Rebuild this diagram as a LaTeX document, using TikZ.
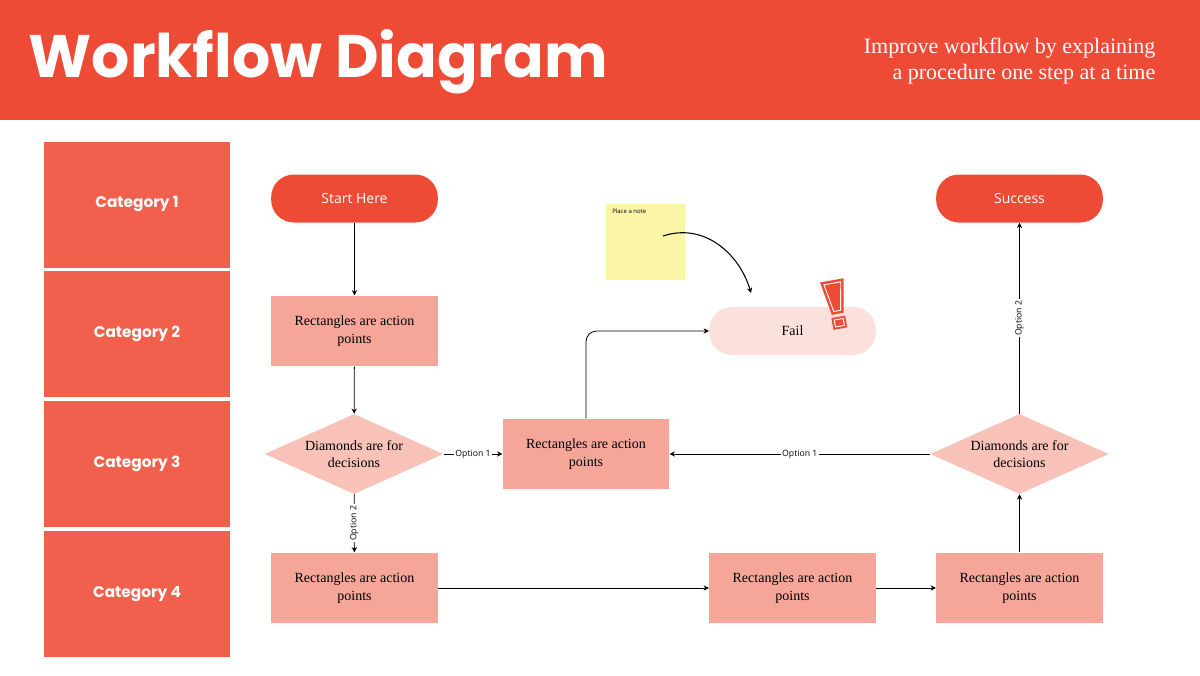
\documentclass[tikz,border=0pt]{standalone}
\usepackage{fontspec}
\setmainfont{Liberation Serif}
\newfontfamily\popp{Poppins}
\newfontfamily\opens{Open Sans}
\usetikzlibrary{positioning, shapes.geometric, arrows.meta}
\definecolor{hdr}{HTML}{EE4B36}
\definecolor{cat}{HTML}{F0604D}
\definecolor{act}{HTML}{F5A699}
\definecolor{dec}{HTML}{F9C2B8}
\definecolor{failc}{HTML}{FCE0DB}
\definecolor{note}{HTML}{FBF5A8}
\tikzset{
  catbox/.style={fill=cat, draw=white, line width=1.5pt, minimum width=141pt, minimum height=96pt, font=\popp\bfseries\fontsize{11.5}{13}\selectfont, text=white},
  pill/.style={rounded corners=17pt, minimum width=125pt, minimum height=36pt, font=\opens\fontsize{10.5}{12}\selectfont},
  action/.style={fill=act, minimum width=125pt, minimum height=53pt, align=center, font=\fontsize{10.5}{13}\selectfont},
  decision/.style={diamond, fill=dec, minimum width=134pt, minimum height=60pt, aspect=2.2, inner sep=0pt, align=center, font=\fontsize{10.5}{13}\selectfont},
  link/.style={-{Stealth[length=4pt,width=4pt]}, line width=0.6pt},
  opt/.style={fill=white, inner sep=1pt, font=\opens\fontsize{6.5}{7}\selectfont}
}
\begin{document}
\begin{tikzpicture}[x=0.75pt, y=-0.75pt]
\useasboundingbox (0,0) rectangle (1200,675);
% header
\fill[hdr] (0,0) rectangle (1200,120);
\node[anchor=west, text=white, font=\popp\bfseries\fontsize{45}{50}\selectfont] (title) at (24,62) {Workflow Diagram};
\node[anchor=east, text=white, align=right, font=\fontsize{16.5}{20}\selectfont] (sub) at (1160,61) {Improve workflow by explaining\\a procedure one step at a time};
% categories
\foreach \i/\y in {1/204.5, 2/334, 3/464, 4/594}
  \node[catbox] (cat\i) at (137,\y) {Category \i};
% nodes
\node[pill, fill=hdr, text=white] (start) at (354.5,198.5) {Start Here};
\node[pill, fill=hdr, text=white] (success) at (1019.5,198.5) {Success};
\node[pill, fill=failc] (fail) at (792.5,331) {\fontsize{10.5}{12}\rmfamily Fail};
\node[action] (act1) at (354.5,331) {Rectangles are action\\points};
\node[decision] (dec1) at (354,454) {Diamonds are for\\decisions};
\node[action] (act2) at (586,454) {Rectangles are action\\points};
\node[decision] (dec2) at (1019.5,454) {Diamonds are for\\decisions};
\node[action] (act3) at (354.5,588) {Rectangles are action\\points};
\node[action] (act4) at (792.5,588) {Rectangles are action\\points};
\node[action] (act5) at (1019.5,588) {Rectangles are action\\points};
% note
\node[fill=note, minimum width=59pt, minimum height=57pt, anchor=north west, inner sep=0pt] (memo) at (606,204) {};
\node[anchor=north west, font=\opens\fontsize{4.5}{5}\selectfont, inner sep=0pt] (memotext) at (612,209) {Place a note};
\coordinate (curvestart) at (663,236);
\draw[link, line width=0.8pt] (curvestart) .. controls (705,222) and (740,255) .. (751,293);
% exclamation
\begin{scope}[shift={(836,304)}, rotate=10]
  \fill[hdr] (-12,-24) -- (12,-24) -- (6,10) -- (-6,10) -- cycle;
  \fill[hdr] (-7,13) rectangle (7,25);
  \draw[white, line width=0.7pt] (-8.5,-21) -- (8.5,-21) -- (3.5,7) -- (-3.5,7) -- cycle;
  \draw[white, line width=0.7pt] (-4.5,15.5) rectangle (4.5,22.5);
\end{scope}
% connectors
\draw[link] (start) -- (act1);
\draw[link] (act1) -- (dec1);
\draw[link] (dec1) -- node[opt] {Option 1} (act2);
\draw[link] (dec1) -- node[opt, rotate=90] {Option 2} (act3);
\draw[link] (act3) -- (act4);
\draw[link] (act4) -- (act5);
\draw[link] (act5) -- (dec2);
\draw[link] (dec2) -- node[opt, rotate=90] {Option 2} (success);
\draw[link] (dec2) -- node[opt] {Option 1} (act2);
\draw[link, rounded corners=8pt] (act2.north) |- (fail.west);
\end{tikzpicture}
\end{document}
